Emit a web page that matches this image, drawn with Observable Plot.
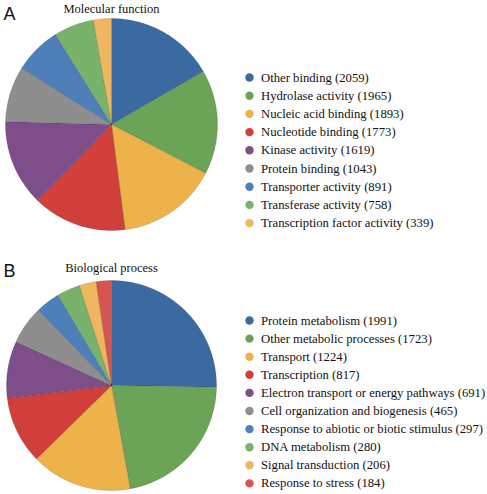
<!DOCTYPE html>
<html>
<head>
<meta charset="utf-8">
<script src="https://cdn.jsdelivr.net/npm/d3@7"></script>
<script src="https://cdn.jsdelivr.net/npm/@observablehq/plot@0.6"></script>
<style>
  html, body { margin: 0; padding: 0; background: #fff; }
  #chart svg { display: block; }
</style>
</head>
<body>
<div id="chart"></div>
<script>
// ---- Data ----
const mfLabels = ["Other binding", "Hydrolase activity", "Nucleic acid binding", "Nucleotide binding",
  "Kinase activity", "Protein binding", "Transporter activity", "Transferase activity",
  "Transcription factor activity"];
const mfValues = [2059, 1965, 1893, 1773, 1619, 1043, 891, 758, 339];

const bpLabels = ["Protein metabolism", "Other metabolic processes", "Transport", "Transcription",
  "Electron transport or energy pathways", "Cell organization and biogenesis",
  "Response to abiotic or biotic stimulus", "DNA metabolism", "Signal transduction", "Response to stress"];
const bpValues = [1991, 1723, 1224, 817, 691, 465, 297, 280, 206, 184];

const palette = ["#3B6AA0", "#6CA457", "#EEB24B", "#D13F3B", "#7E4E8B", "#8E8E8E",
  "#4E7FB8", "#79B36B", "#EEB65F", "#D65550"];

// ---- Layout ----
const W = 487, H = 494;
const panels = [
  {letter: "A", title: "Molecular function", labels: mfLabels, values: mfValues,
   cx: 111, cy: 124, r: 106, titleY: 8, letterY: 14, legY: 77, legStep: 18.2},
  {letter: "B", title: "Biological process", labels: bpLabels, values: bpValues,
   cx: 111, cy: 385, r: 105, titleY: 267, letterY: 271, legY: 320, legStep: 18.1}
];
const dotX = 249, textX = 260.5;

// ---- Build slice polygons and legend rows ----
const slicePts = [];
const legend = [];
const titles = [];
for (const p of panels) {
  const arcs = d3.pie().sort(null).value(d => d)(p.values);
  arcs.forEach((a, i) => {
    const key = p.letter + ":" + p.labels[i];
    const n = Math.max(2, Math.ceil((a.endAngle - a.startAngle) / (Math.PI / 360)));
    slicePts.push({key, cat: p.labels[i], x: p.cx, y: p.cy});
    for (let k = 0; k <= n; k++) {
      const t = a.startAngle + (a.endAngle - a.startAngle) * k / n;
      slicePts.push({key, cat: p.labels[i], x: p.cx + p.r * Math.sin(t), y: p.cy - p.r * Math.cos(t)});
    }
    slicePts.push({key, cat: p.labels[i], x: p.cx, y: p.cy});
    legend.push({cat: p.labels[i], text: `${p.labels[i]} (${p.values[i]})`, y: p.legY + i * p.legStep});
  });
  titles.push({text: p.title, x: p.cx, y: p.titleY});
}
const letters = panels.map(p => ({text: p.letter, y: p.letterY}));

const colorDomain = [...mfLabels, ...bpLabels];
const colorRange = [...palette.slice(0, mfLabels.length), ...palette.slice(0, bpLabels.length)];

const chart = Plot.plot({
  width: W, height: H,
  margin: 0,
  x: {domain: [0, W], range: [0, W], axis: null},
  y: {domain: [0, H], range: [0, H], axis: null},
  color: {type: "ordinal", domain: colorDomain, range: colorRange},
  style: {background: "#fff"},
  marks: [
    Plot.line(slicePts, {x: "x", y: "y", z: "key", fill: "cat", stroke: "#000", strokeOpacity: 0.18, strokeWidth: 0.7, curve: "linear-closed"}),
    Plot.dot(legend, {x: dotX, y: "y", fill: "cat", r: 4.2, stroke: null}),
    Plot.text(legend, {x: textX, y: "y", text: "text", textAnchor: "start", fontFamily: "Liberation Serif", fontSize: 12.7, fill: "#111"}),
    Plot.text(titles, {x: "x", y: "y", text: "text", fontFamily: "Liberation Serif", fontSize: 12.5, fill: "#111"}),
    Plot.text(letters, {x: 9, y: "y", text: "text", fontFamily: "Liberation Sans", fontSize: 18, fill: "#111"})
  ]
});
document.getElementById("chart").appendChild(chart);
</script>
</body>
</html>
